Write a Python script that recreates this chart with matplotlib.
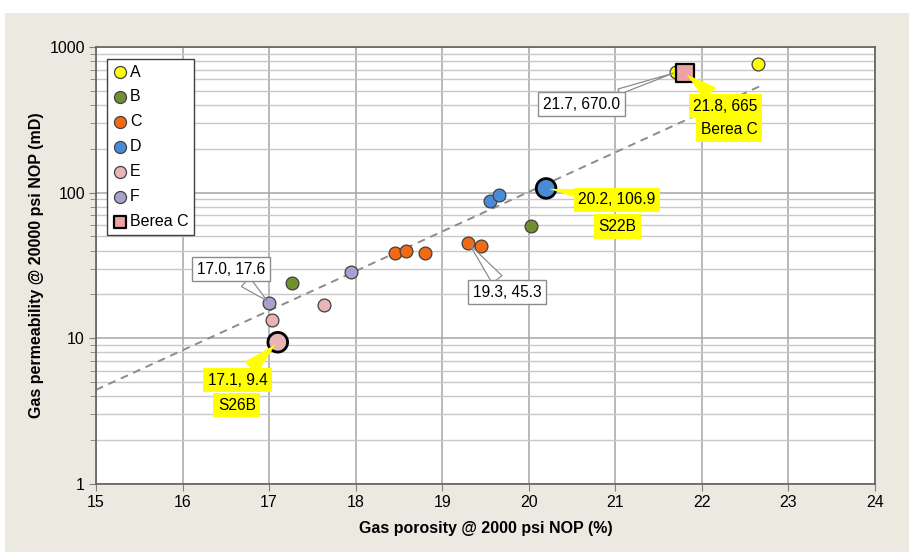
import numpy as np
import matplotlib.pyplot as plt
from matplotlib.patches import Rectangle

plt.rcParams['font.family'] = ['Liberation Sans', 'DejaVu Sans']

# ---------- data ----------
groups = ["A", "B", "C", "D", "E", "F"]
colors = ["#ffff00", "#6f8f30", "#f26a14", "#4a8bd8", "#e9b4b4", "#a9a1cb"]
poro = {
    "A": [21.7, 22.65],
    "B": [17.27, 20.03],
    "C": [18.45, 18.58, 18.8, 19.3, 19.45],
    "D": [19.55, 19.66, 20.2],
    "E": [17.03, 17.63, 17.1],
    "F": [17.0, 17.95],
}
perm = {
    "A": [670.0, 760],
    "B": [24, 59],
    "C": [38.5, 40, 38.5, 45.3, 43],
    "D": [88, 96, 106.9],
    "E": [13.3, 17, 9.4],
    "F": [17.6, 28.6],
}
berea_x, berea_y = 21.8, 665

# highlighted samples (big markers, black edge)
hi_x = [20.2, 17.1]
hi_y = [106.9, 9.4]
hi_col = ["#4a8bd8", "#e9b4b4"]

# dashed trend line (straight in log space)
trend_x = [15.0, 22.7]
trend_y = [4.43, 548.0]

# ---------- figure ----------
fig = plt.figure(figsize=(9.09, 5.52), dpi=100, facecolor="white")
fig.patches.append(Rectangle((5 / 909, 0), 1, 1 - 13 / 552, transform=fig.transFigure,
                             facecolor="#ece9e1", edgecolor="none", zorder=-10))
ax = fig.add_axes([0.1056, 0.1232, 0.857, 0.7917])
ax.set_facecolor("white")

ax.set_yscale("log")
ax.set_xlim(15, 24)
ax.set_ylim(1, 1000)
ax.set_xticks(np.arange(15, 25, 1))
ax.set_yticks([1, 10, 100, 1000])
ax.set_yticklabels(["1", "10", "100", "1000"])
ax.grid(True, which="major", color="#a6a6a6", lw=1.1)
ax.grid(True, which="minor", axis="y", color="#c8c8c8", lw=1.0)
ax.set_axisbelow(True)
ax.tick_params(axis="both", which="major", labelsize=11.5, length=5, color="#808080", pad=3)
ax.tick_params(axis="y", which="minor", length=4, color="#808080", labelleft=False)
for s in ax.spines.values():
    s.set_color("#606060")
    s.set_linewidth(1.2)

ax.plot(trend_x, trend_y, ls=(0, (4, 3)), color="#8c8c8c", lw=1.4, zorder=2)

for g, c in zip(groups, colors):
    ax.scatter(poro[g], perm[g], s=85, color=c, edgecolor="#404040", lw=0.9, zorder=3, label=g)
ax.scatter(hi_x, hi_y, s=200, color=hi_col, edgecolor="black", lw=2.0, zorder=4)
ax.scatter([berea_x], [berea_y], s=150, marker="s", color="#eba3a6", edgecolor="black",
           lw=1.6, zorder=5, label="Berea C")

ax.set_xlabel("Gas porosity @ 2000 psi NOP (%)", fontsize=11.5, fontweight="bold", labelpad=8)
ax.set_ylabel("Gas permeability @ 20000 psi NOP (mD)", fontsize=11.5, fontweight="bold", labelpad=4)

leg = ax.legend(loc="upper left", bbox_to_anchor=(0.014, 0.9725), borderaxespad=0,
                fontsize=11.5, labelspacing=0.62, handletextpad=0.1, handlelength=1.0,
                borderpad=0.35, fancybox=False, framealpha=1, edgecolor="#404040")
leg.get_frame().set_linewidth(1.0)
for h in leg.legend_handles:
    h.set_sizes([75])

# ---------- callouts ----------
white_box = dict(boxstyle="square,pad=0.3", fc="white", ec="#8c8c8c", lw=1.0)
yellow_box = dict(boxstyle="square,pad=0.3", fc="#ffff00", ec="none")


def callout(x, y, txt, dx, dy, box, fc, ec, tail=0.5, arrow=True):
    props = None
    if arrow:
        props = dict(arrowstyle=f"wedge,tail_width={tail}", fc=fc, ec=ec, lw=0.9,
                     shrinkA=0, shrinkB=2)
    ax.annotate(txt, (x, y), xytext=(dx, dy), textcoords="offset points",
                ha="center", va="center", fontsize=11.2, bbox=box,
                arrowprops=props, zorder=6)


callout(21.7, 670.0, "21.7, 670.0", -68, -23, white_box, "white", "#8c8c8c", tail=0.35)
callout(berea_x, berea_y, "21.8, 665", 29.5, -24, yellow_box, "#ffff00", "none", tail=1.1)
callout(berea_x, berea_y, "Berea C", 32, -41, yellow_box, "#ffff00", "none", arrow=False)
callout(20.2, 106.9, "20.2, 106.9", 51, -8.3, yellow_box, "#ffff00", "none", tail=0.5)
callout(20.2, 106.9, "S22B", 51.5, -27.4, yellow_box, "#ffff00", "none", arrow=False)
callout(17.0, 17.6, "17.0, 17.6", -27.4, 24, white_box, "white", "#8c8c8c", tail=0.8)
callout(19.3, 45.3, "19.3, 45.3", 28, -35.6, white_box, "white", "#8c8c8c", tail=0.8)
callout(17.1, 9.4, "17.1, 9.4", -28.8, -27.4, yellow_box, "#ffff00", "none", tail=1.1)
callout(17.1, 9.4, "S26B", -29.5, -45.4, yellow_box, "#ffff00", "none", arrow=False)

fig.savefig("out.png", dpi=100)
